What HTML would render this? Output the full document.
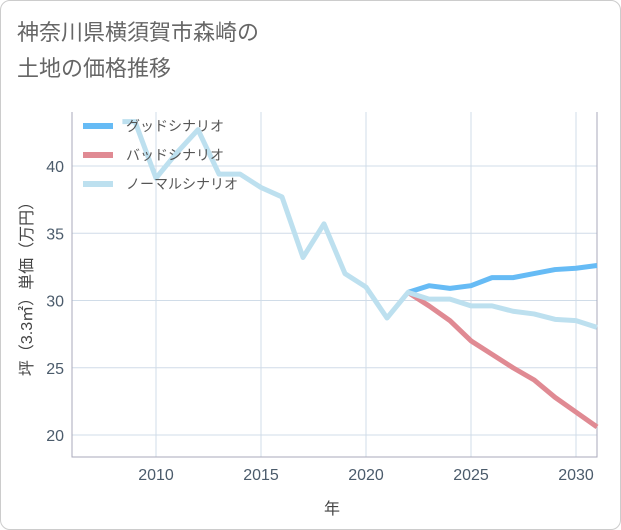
<!DOCTYPE html>
<html><head><meta charset="utf-8"><style>
body{margin:0;background:#fff;font-family:"Liberation Sans","Noto Sans CJK JP",sans-serif}
#card{position:absolute;left:0;top:0;width:619px;height:528px;border:1px solid #ccc;border-radius:10px;background:#fff}
</style></head><body>
<div id="card">
<svg width="621" height="530" style="position:absolute;left:-1px;top:-1px">
<text x="17" y="40" font-size="22" fill="#666">神奈川県横須賀市森崎の</text>
<text x="17" y="76" font-size="22" fill="#666">土地の価格推移</text>
<g id="grid"></g><g id="series"></g><g id="legend"></g>
<text x="332" y="514" font-size="16" fill="#444" text-anchor="middle">年</text>
<text transform="translate(32,285) rotate(-90)" font-size="16" fill="#444" text-anchor="middle">坪（3.3㎡）単価（万円）</text>
</svg></div>
<script>
const xTicks=[2010,2015,2020,2025,2030];
const yTicks=[20,25,30,35,40];
const normalYears=[2008.4,2009,2010,2011,2012,2013,2014,2015,2016,2017,2018,2019,2020,2021,2022,2023,2024,2025,2026,2027,2028,2029,2030,2031];
const normalVals=[43.3,43.3,39.1,41.0,42.7,39.4,39.4,38.4,37.7,33.2,35.7,32.0,31.0,28.7,30.6,30.1,30.1,29.6,29.6,29.2,29.0,28.6,28.5,28.0];
const futureYears=[2022,2023,2024,2025,2026,2027,2028,2029,2030,2031];
const goodVals=[30.6,31.1,30.9,31.1,31.7,31.7,32.0,32.3,32.4,32.6];
const badVals=[30.6,29.6,28.5,27.0,26.0,25.0,24.1,22.8,21.7,20.6];
const L=72,R=597,T=112,B=457;
const X=y=>156+(y-2010)*21;
const Y=v=>166+(40-v)*13.45;
const NS='http://www.w3.org/2000/svg';
function mk(tag,attrs,parent){const e=document.createElementNS(NS,tag);for(const k in attrs)e.setAttribute(k,attrs[k]);parent.appendChild(e);return e;}
const g=document.getElementById('grid');
xTicks.forEach(t=>{const l=mk('line',{x1:X(t),x2:X(t),y1:T,y2:B,stroke:'#d0dce8','stroke-width':1},g);


const tx=mk('text',{x:X(t),y:480,'font-size':16,fill:'#4b5b6b','text-anchor':'middle'},g);tx.textContent=t;

});
yTicks.forEach(t=>{const l=mk('line',{x1:L,x2:R,y1:Y(t),y2:Y(t),stroke:'#d0dce8','stroke-width':1},g);


const tx=mk('text',{x:64,y:Y(t)+6,'font-size':16,fill:'#4b5b6b','text-anchor':'end'},g);tx.textContent=t;

});
const ax=mk('path',{d:`M${L},${T} V${B} H${R} V${T}`,fill:'none',stroke:'#aab',"stroke-width":1},g);


const s=document.getElementById('series');
function line(xs,vs,color,name){const p=mk('polyline',{points:xs.map((x,i)=>X(x)+','+Y(vs[i])).join(' '),fill:'none',stroke:color,'stroke-width':5,'stroke-linejoin':'round'},s);

}
line(futureYears,badVals,'#e08a93','bad-scenario-line');
line(futureYears,goodVals,'#66bbf5','good-scenario-line');
line(normalYears,normalVals,'#bde0ef','normal-scenario-line');
const lg=document.getElementById('legend');
[['グッドシナリオ','#66bbf5','legend-good'],['バッドシナリオ','#e08a93','legend-bad'],['ノーマルシナリオ','#bde0ef','legend-normal']].forEach((d,i)=>{
const y=126+i*29;
const r=mk('rect',{x:83,y:y-3,width:30,height:6,fill:d[1]},lg);


const t=mk('text',{x:126,y:y+5,'font-size':14,fill:'#555'},lg);t.textContent=d[0];

});
</script>
</body></html>
